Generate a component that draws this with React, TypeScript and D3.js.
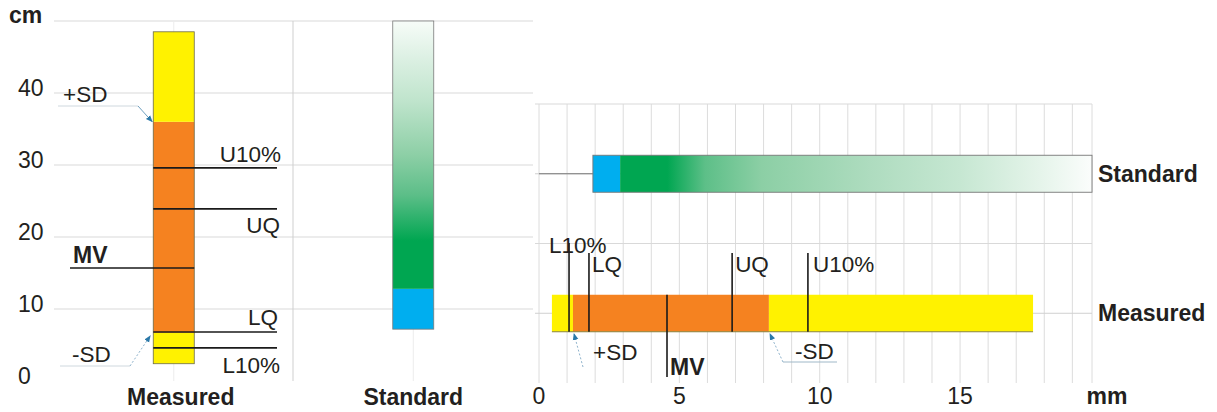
import React from "react";
import * as d3 from "d3";

// ---------- data ----------
const leftCategories = ["Measured", "Standard"];
const leftTicks = [0, 10, 20, 30, 40];
const leftGridValues = [10, 20, 30, 40, 50];
// Measured (cm): yellow / orange / yellow segment bounds
const leftMeasuredBounds = [2.4, 6.7, 36.0, 48.5];
const markerNames = ["L10%", "LQ", "MV", "UQ", "U10%"];
const leftMarkerValues = [4.6, 6.8, 15.7, 23.9, 29.6];
// Standard (cm): blue start, green start, end
const leftStandardBounds = [7.2, 12.8, 50];

const rightCategories = ["Standard", "Measured"];
const rightTicks = [0, 5, 10, 15];
const rightMeasuredBounds = [0.46, 1.21, 8.19, 17.6];
const rightMarkerValues = [1.07, 1.78, 4.56, 6.88, 9.58];
const rightStandardBounds = [1.92, 2.89, 19.7];

// ---------- style ----------
const FONT = "'Liberation Sans', Arial, sans-serif";
const YELLOW = "#fff200";
const ORANGE = "#f58220";
const BLUE = "#00aeef";
const GREEN = "#00a651";
const GRID = "#d9d9d9";
const TEXT = "#231f20";
const LEADER = "#2a78a8";
const LABEL_FS = 22.5;
const BOLD_FS = 23;

export default function App() {
  // left panel scales
  const ly = d3.scaleLinear().domain([0, 50]).range([381, 21]);
  const lx = d3.scaleBand().domain(leftCategories).range([54, 533]);
  const lBarW = 41;
  const lcx = (c: string) => (lx(c) as number) + lx.bandwidth() / 2;

  // right panel scales
  const rx = d3.scaleLinear().domain([0, 19.7]).range([539, 1092]);
  const ry = d3.scaleBand().domain(rightCategories).range([104, 383]);
  const rcy = (c: string) => (ry(c) as number) + ry.bandwidth() / 2;
  const rBarH = 37;

  const segColors = [YELLOW, ORANGE, YELLOW];

  const mx0 = lcx("Measured") - lBarW / 2;
  const mx1 = mx0 + lBarW;
  const sx0 = lcx("Standard") - lBarW / 2;

  const my0 = rcy("Measured") - rBarH / 2;
  const my1 = my0 + rBarH;
  const sy0 = rcy("Standard") - rBarH / 2;

  const leftLabelLayout: Record<string, { lx1: number; lx2: number; tx: number; dy: number; anchor: string; bold?: boolean }> = {
    "L10%": { lx1: mx0, lx2: 277, tx: 280, dy: 25, anchor: "end" },
    LQ: { lx1: mx0, lx2: 277, tx: 278, dy: -7, anchor: "end" },
    MV: { lx1: 70, lx2: mx1, tx: 73, dy: -5, anchor: "start", bold: true },
    UQ: { lx1: mx0, lx2: 277, tx: 280, dy: 24, anchor: "end" },
    "U10%": { lx1: mx0, lx2: 277, tx: 281, dy: -6, anchor: "end" },
  };

  const rightLabelLayout: Record<string, { top: number; bottom: number; dx: number; ty: number; bold?: boolean }> = {
    "L10%": { top: 243, bottom: my1, dx: -20, ty: 253 },
    LQ: { top: 253, bottom: my1, dx: 3, ty: 272 },
    MV: { top: my0, bottom: 377, dx: 3, ty: 375, bold: true },
    UQ: { top: 253, bottom: my1, dx: 3, ty: 272 },
    "U10%": { top: 253, bottom: my1, dx: 5, ty: 272 },
  };

  const orangeTopY = ly(leftMeasuredBounds[2]);
  const orangeBotY = ly(leftMeasuredBounds[1]);
  const rOrangeStart = rx(rightMeasuredBounds[1]);
  const rOrangeEnd = rx(rightMeasuredBounds[2]);

  const rTicksGrid = d3.range(0, 20).filter((v) => v <= 19.7);

  return (
    <svg
      width={1217}
      height={412}
      style={{ position: "absolute", left: 0, top: 0, background: "#ffffff" }}
      fontFamily={FONT}
    >
      <defs>
        <linearGradient id="gV" x1="0" y1="1" x2="0" y2="0">
          <stop offset="0" stopColor={GREEN} />
          <stop offset="0.18" stopColor={GREEN} />
          <stop offset="0.35" stopColor="#5cbe88" />
          <stop offset="0.5" stopColor="#8dcfa6" />
          <stop offset="0.7" stopColor="#bfe4cc" />
          <stop offset="0.86" stopColor="#dcf0e3" />
          <stop offset="1" stopColor="#f7fcf8" />
        </linearGradient>
        <linearGradient id="gH" x1="0" y1="0" x2="1" y2="0">
          <stop offset="0" stopColor={GREEN} />
          <stop offset="0.1" stopColor={GREEN} />
          <stop offset="0.18" stopColor="#5dbf88" />
          <stop offset="0.3" stopColor="#8ccfa5" />
          <stop offset="0.53" stopColor="#aedcbf" />
          <stop offset="0.72" stopColor="#c6e7d2" />
          <stop offset="0.89" stopColor="#e5f4ea" />
          <stop offset="1" stopColor="#fbfdfc" />
        </linearGradient>
        <marker id="arr" viewBox="0 0 10 10" refX="9" refY="5" markerWidth="7" markerHeight="7" orient="auto-start-reverse">
          <path d="M0,1 L10,5 L0,9 z" fill={LEADER} />
        </marker>
      </defs>

      {/* ================= LEFT PANEL ================= */}
      {leftGridValues.map((v) => (
        <line key={"lg" + v} x1={54} x2={533} y1={ly(v)} y2={ly(v)} stroke={GRID} strokeWidth={1} />
      ))}
      <line x1={293} x2={293} y1={ly(50)} y2={ly(0)} stroke="#cfcfcf" />
      {leftCategories.map((c) => (
        <line key={"lc" + c} x1={lcx(c)} x2={lcx(c)} y1={ly(50)} y2={ly(0)} stroke="#ececec" />
      ))}
      {leftTicks.map((t) => (
        <text key={"lt" + t} x={18} y={ly(t) + 3} fontSize={23} fill={TEXT}>
          {t}
        </text>
      ))}
      <text x={9} y={23} fontSize={BOLD_FS} fontWeight="bold" fill={TEXT}>
        cm
      </text>

      {segColors.map((col, i) => (
        <rect
          key={"lm" + i}
          x={mx0}
          width={lBarW}
          y={ly(leftMeasuredBounds[i + 1])}
          height={ly(leftMeasuredBounds[i]) - ly(leftMeasuredBounds[i + 1])}
          fill={col}
        />
      ))}
      <rect
        x={mx0}
        width={lBarW}
        y={ly(leftMeasuredBounds[3])}
        height={ly(leftMeasuredBounds[0]) - ly(leftMeasuredBounds[3])}
        fill="none"
        stroke="#6b6b4a"
        strokeWidth={0.8}
      />

      <rect
        x={sx0}
        width={lBarW}
        y={ly(leftStandardBounds[1])}
        height={ly(leftStandardBounds[0]) - ly(leftStandardBounds[1])}
        fill={BLUE}
      />
      <rect
        x={sx0}
        width={lBarW}
        y={ly(leftStandardBounds[2])}
        height={ly(leftStandardBounds[1]) - ly(leftStandardBounds[2])}
        fill="url(#gV)"
      />
      <rect
        x={sx0}
        width={lBarW}
        y={ly(leftStandardBounds[2])}
        height={ly(leftStandardBounds[0]) - ly(leftStandardBounds[2])}
        fill="none"
        stroke="#7a7a7a"
        strokeWidth={0.8}
      />

      {markerNames.map((n, i) => {
        const L = leftLabelLayout[n];
        const y = ly(leftMarkerValues[i]);
        return (
          <g key={"lmk" + n}>
            <line x1={L.lx1} x2={L.lx2} y1={y} y2={y} stroke="#1a1a1a" strokeWidth={1.6} />
            <text
              x={L.tx}
              y={y + L.dy}
              fontSize={L.bold ? BOLD_FS : LABEL_FS}
              textAnchor={L.anchor as any}
              fontWeight={L.bold ? "bold" : "normal"}
              fill={TEXT}
            >
              {n}
            </text>
          </g>
        );
      })}

      <text x={63} y={102} fontSize={LABEL_FS} fill={TEXT}>
        +SD
      </text>
      <line x1={58} x2={138} y1={106} y2={106} stroke="#cfd8de" strokeWidth={1} />
      <line x1={138} y1={106} x2={mx0 - 1} y2={orangeTopY} stroke="#6f9fbf" strokeWidth={1} markerEnd="url(#arr)" />
      <text x={72} y={362} fontSize={LABEL_FS} fill={TEXT}>
        -SD
      </text>
      <line x1={60} x2={130} y1={366} y2={366} stroke="#cfd8de" strokeWidth={1} />
      <line
        x1={130}
        y1={366}
        x2={mx0 - 3}
        y2={orangeBotY + 3}
        stroke="#8fb3cc"
        strokeWidth={1}
        strokeDasharray="2,2"
        markerEnd="url(#arr)"
      />

      {leftCategories.map((c, i) => (
        <text
          key={"lcl" + c}
          x={lcx(c) + (i === 0 ? 7 : 0)}
          y={405}
          fontSize={BOLD_FS}
          fontWeight="bold"
          textAnchor="middle"
          fill={TEXT}
        >
          {c}
        </text>
      ))}

      {/* ================= RIGHT PANEL ================= */}
      {rTicksGrid.map((v) => (
        <line key={"rg" + v} x1={rx(v)} x2={rx(v)} y1={104} y2={383} stroke="#dcdcdc" />
      ))}
      <line x1={rx(19.7)} x2={rx(19.7)} y1={104} y2={383} stroke="#dcdcdc" />
      {[ry(rightCategories[0]) as number, ry(rightCategories[1]) as number].map((y, i) => (
        <line key={"rh" + i} x1={535} x2={rx(19.7)} y1={y} y2={y} stroke={GRID} />
      ))}
      {rightCategories.map((c) => (
        <line key={"rcl" + c} x1={535} x2={rx(19.7)} y1={rcy(c)} y2={rcy(c)} stroke="#d0d0d0" />
      ))}
      <line x1={539} x2={rx(rightStandardBounds[0])} y1={rcy("Standard")} y2={rcy("Standard")} stroke="#7a7a7a" />

      <rect
        x={rx(rightStandardBounds[0])}
        y={sy0}
        width={rx(rightStandardBounds[1]) - rx(rightStandardBounds[0])}
        height={rBarH}
        fill={BLUE}
      />
      <rect
        x={rx(rightStandardBounds[1])}
        y={sy0}
        width={rx(rightStandardBounds[2]) - rx(rightStandardBounds[1])}
        height={rBarH}
        fill="url(#gH)"
      />
      <rect
        x={rx(rightStandardBounds[0])}
        y={sy0}
        width={rx(rightStandardBounds[2]) - rx(rightStandardBounds[0])}
        height={rBarH}
        fill="none"
        stroke="#777"
        strokeWidth={0.9}
      />

      {segColors.map((col, i) => (
        <rect
          key={"rm" + i}
          x={rx(rightMeasuredBounds[i])}
          y={my0}
          width={rx(rightMeasuredBounds[i + 1]) - rx(rightMeasuredBounds[i])}
          height={rBarH}
          fill={col}
        />
      ))}
      <line
        x1={rx(rightMeasuredBounds[0])}
        x2={rx(rightMeasuredBounds[3])}
        y1={my1}
        y2={my1}
        stroke="#8a8440"
        strokeWidth={1}
      />

      {markerNames.map((n, i) => {
        const L = rightLabelLayout[n];
        const x = rx(rightMarkerValues[i]);
        return (
          <g key={"rmk" + n}>
            <line x1={x} x2={x} y1={L.top} y2={L.bottom} stroke="#1a1a1a" strokeWidth={1.6} />
            <text
              x={x + L.dx}
              y={L.ty}
              fontSize={L.bold ? BOLD_FS : LABEL_FS}
              fontWeight={L.bold ? "bold" : "normal"}
              fill={TEXT}
            >
              {n}
            </text>
          </g>
        );
      })}

      <text x={593} y={360} fontSize={LABEL_FS} fill={TEXT}>
        +SD
      </text>
      <line
        x1={583}
        y1={367}
        x2={rOrangeStart + 1}
        y2={my1 + 2}
        stroke="#8fb3cc"
        strokeWidth={1}
        strokeDasharray="2,2"
        markerEnd="url(#arr)"
      />
      <text x={795} y={359} fontSize={LABEL_FS} fill={TEXT}>
        -SD
      </text>
      <line x1={783} x2={837} y1={362} y2={362} stroke="#9fb8c8" strokeWidth={1} />
      <line
        x1={783}
        y1={362}
        x2={rOrangeEnd + 1}
        y2={my1 + 2}
        stroke="#8fb3cc"
        strokeWidth={1}
        strokeDasharray="2,2"
        markerEnd="url(#arr)"
      />

      {rightTicks.map((t) => (
        <text key={"rt" + t} x={rx(t)} y={404} fontSize={23} textAnchor="middle" fill={TEXT}>
          {t}
        </text>
      ))}
      <text x={1107} y={404} fontSize={BOLD_FS} fontWeight="bold" textAnchor="middle" fill={TEXT}>
        mm
      </text>

      {rightCategories.map((c) => (
        <text key={"rcat" + c} x={1098} y={rcy(c) + 8} fontSize={BOLD_FS} fontWeight="bold" fill={TEXT}>
          {c}
        </text>
      ))}
    </svg>
  );
}
